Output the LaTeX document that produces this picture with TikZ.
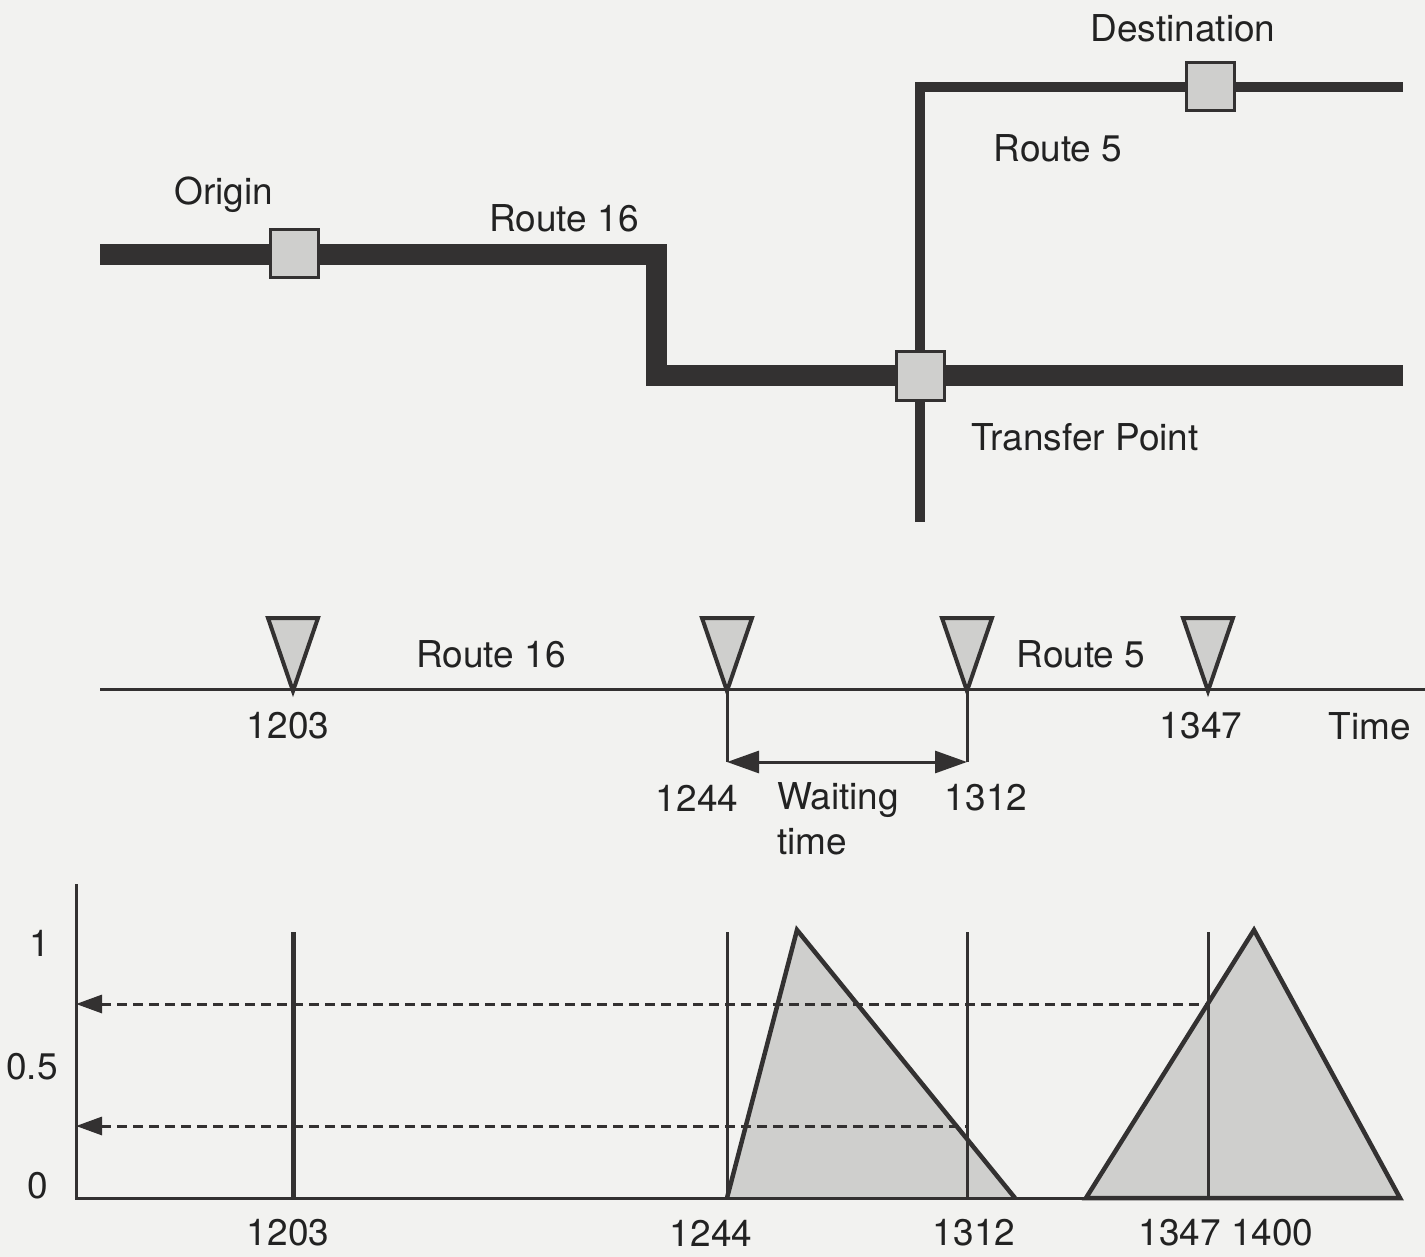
\documentclass[tikz,border=0pt]{standalone}
\usepackage{fontspec}
\setmainfont{TeX Gyre Heros}
\usetikzlibrary{arrows.meta}
\definecolor{bg}{HTML}{F2F2F0}
\definecolor{ink}{HTML}{333131}
\definecolor{txt}{HTML}{222222}
\definecolor{fillg}{HTML}{CFCFCD}
\tikzset{
  lbl/.style={text=txt,font=\fontsize{37}{40}\selectfont,inner sep=0pt},
  stop/.style={draw=ink,line width=3pt,fill=fillg,minimum size=48pt,inner sep=0pt},
  route16/.style={draw=ink,line width=21pt,miter limit=10},
  route5/.style={draw=ink,line width=10pt},
  thin/.style={draw=ink,line width=3pt},
  marker/.style={draw=ink,line width=4pt,fill=fillg,line join=miter},
  fuzzy/.style={draw=ink,line width=4.5pt,fill=fillg,line join=miter},
  guide/.style={draw=ink,line width=3pt,dash pattern=on 10pt off 6pt},
}
\begin{document}
\begin{tikzpicture}[x=1pt,y=-1pt]
\fill[bg] (0,0) rectangle (1425,1257);
\useasboundingbox (0,0) rectangle (1425,1257);
% ---------------- map ----------------
\draw[route16] (100,255) -- (656,255) -- (656,376) -- (1403,376);
\draw[route5] (920,522) -- (920,87) -- (1403,87);
\node[stop] (origin) at (294,254) {};
\node[stop] (transfer) at (920,376) {};
\node[stop] (dest) at (1210,87) {};
\node[lbl] (tOrigin) at (224,195) {Origin};
\node[lbl] (tR16) at (564,218) {Route 16};
\node[lbl] (tR5) at (1058,148) {Route 5};
\node[lbl] (tDest) at (1183,28) {Destination};
\node[lbl] (tTransfer) at (1085,437) {Transfer Point};
% ---------------- timeline ----------------
\coordinate (tl0) at (100,689);
\coordinate (tl1) at (1425,689);
\draw[thin] (tl0) -- (tl1);
\foreach \x/\n in {293/a,727/b,967/c,1208/d}{
  \draw[marker] (\x-25,618) -- (\x+25,618) -- (\x,691) -- cycle;
  \coordinate (m\n) at (\x,689);
}
\node[lbl] (tlR16) at (491,654) {Route 16};
\node[lbl] (tlR5) at (1081,654) {Route 5};
\node[lbl] (t1203) at (288,726) {1203};
\node[lbl] (t1347) at (1201,726) {1347};
\node[lbl] (tTime) at (1370,726) {Time};
\coordinate (wa) at (727,762);
\coordinate (wb) at (967,762);
\draw[thin,line join=miter] (mb) -- (wa);
\draw[thin,line join=miter] (mc) -- (wb);
\draw[thin,{Triangle[length=32pt,width=22pt]}-{Triangle[length=32pt,width=22pt]}] (wa) -- (wb);
\node[lbl] (t1244) at (697,798) {1244};
\node[lbl,align=left,anchor=north west] (tWait) at (777,782) {Waiting\\[5pt]time};
\node[lbl] (t1312) at (986,798) {1312};
% ---------------- membership chart ----------------
\coordinate (org) at (76,1198);
\coordinate (ytop) at (76,885);
\coordinate (xend) at (1400,1198);
\fill[fillg] (727,1198) -- (797,930) -- (1015,1198) -- cycle;
\fill[fillg] (1086,1198) -- (1254,930) -- (1400,1198) -- cycle;
\draw[guide,{Triangle[length=26pt,width=18pt]}-] (76,1004) -- (1208,1004);
\draw[guide,{Triangle[length=26pt,width=18pt]}-] (76,1126) -- (967,1126);
\draw[ink,line width=5pt] (293,932) -- (293,1198);
\draw[thin] (727,932) -- (727,1198);
\draw[thin] (967,932) -- (967,1198);
\draw[thin] (1208,932) -- (1208,1198);
\draw[fuzzy,fill=none] (727,1198) -- (797,930) -- (1015,1198);
\draw[fuzzy,fill=none] (1086,1198) -- (1254,930) -- (1400,1198) -- cycle;
\draw[thin,line cap=rect] (ytop) -- (org) -- (xend);
\node[lbl] (y1) at (40,943) {1};
\node[lbl] (y05) at (32,1067) {0.5};
\node[lbl] (y0) at (38,1186) {0};
\node[lbl] (b1203) at (288,1233) {1203};
\node[lbl] (b1244) at (711,1233) {1244};
\node[lbl] (b1312) at (974,1233) {1312};
\node[lbl] (b1347) at (1226,1233) {1347 1400};
\end{tikzpicture}
\end{document}
